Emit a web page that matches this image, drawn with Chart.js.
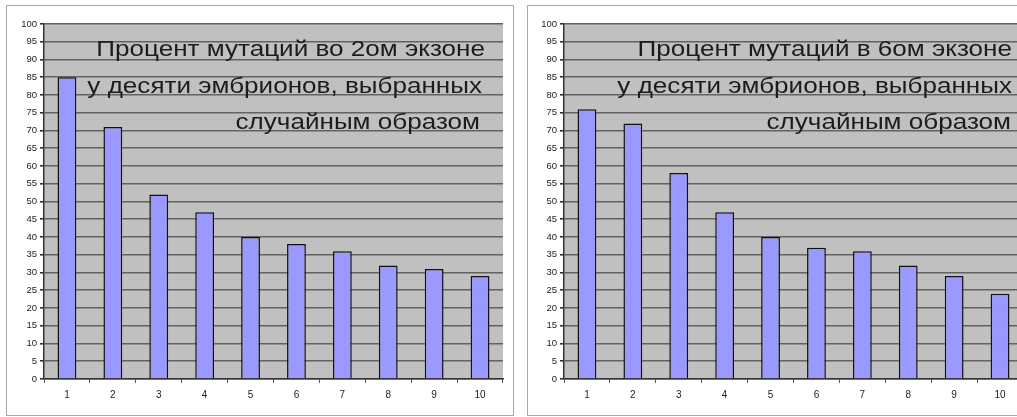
<!DOCTYPE html>
<html>
<head>
<meta charset="utf-8">
<script src="https://cdn.jsdelivr.net/npm/chart.js@4"></script>
<style>
  html, body { margin: 0; padding: 0; background: #fff; width: 1017px; height: 417px; overflow: hidden; position: relative; }
  .frame { position: absolute; top: 5px; width: 506px; height: 409px; border: 1px solid #a8a8a8; background: #fff; }
  #frame1 { left: 6px; }
  #frame2 { left: 527px; }
  canvas { display: block; }
</style>
</head>
<body>
<div class="frame" id="frame1"><canvas id="chart1" width="506" height="409"></canvas></div>
<div class="frame" id="frame2"><canvas id="chart2" width="506" height="409"></canvas></div>
<script>
// Embryo numbers along the x axis
const embryos = ['1', '2', '3', '4', '5', '6', '7', '8', '9', '10'];

// Mutation percentage per embryo
const exon2Values = [85, 71, 52, 47, 40, 38, 36, 32, 31, 29];
const exon6Values = [76, 72, 58, 47, 40, 37, 36, 32, 29, 24];

// Caption lines placed inside each plot
const exon2Caption = ['Процент мутаций во 2ом экзоне', 'у десяти эмбрионов, выбранных', 'случайным образом'];
const exon6Caption = ['Процент мутаций в 6ом экзоне', 'у десяти эмбрионов, выбранных', 'случайным образом'];

// Percentage axis range
const yMin = 0;
const yMax = 100;
const yStep = 5;

// Gray plot background
const plotBackground = {
  id: 'plotBackground',
  beforeDraw(chart) {
    const { ctx, chartArea: a } = chart;
    ctx.save();
    ctx.fillStyle = '#c0c0c0';
    ctx.fillRect(a.left, a.top, a.right - a.left, a.bottom - a.top);
    ctx.restore();
  }
};

// Right-aligned, slightly widened caption text drawn over the plot area
const captionText = {
  id: 'captionText',
  afterDatasetsDraw(chart, args, opts) {
    const { ctx, chartArea: a } = chart;
    ctx.save();
    ctx.font = opts.font;
    ctx.fillStyle = opts.color;
    ctx.textAlign = 'right';
    ctx.textBaseline = 'alphabetic';
    opts.lines.forEach((line, i) => {
      ctx.save();
      ctx.translate(a.left + opts.rightEdges[i], a.top + opts.baselines[i]);
      ctx.scale(opts.stretch, 1);
      ctx.fillText(line, 0, 0);
      ctx.restore();
    });
    ctx.restore();
  }
};

function makeChart(canvasId, values, caption, axisWidth, rightPad, rightEdges) {
  return new Chart(document.getElementById(canvasId), {
    type: 'bar',
    data: {
      labels: embryos,
      datasets: [{
        data: values,
        backgroundColor: '#9999ff',
        borderColor: '#111111',
        borderWidth: 1.5,
        barPercentage: 0.41,
        categoryPercentage: 1.0
      }]
    },
    options: {
      responsive: false,
      animation: false,
      devicePixelRatio: 1,
      layout: { padding: { top: 18, right: rightPad, bottom: 6, left: 0 } },
      plugins: {
        legend: { display: false },
        tooltip: { enabled: false },
        captionText: {
          lines: caption,
          font: '22px "Liberation Sans", Arial, sans-serif',
          color: '#1c1c1c',
          stretch: 1.185,
          rightEdges: rightEdges,
          baselines: [31.7, 69, 105]
        }
      },
      scales: {
        x: {
          grid: { display: true, drawOnChartArea: false, drawTicks: true, tickLength: 4, tickColor: '#555', offset: true },
          border: { display: true, color: '#333', width: 1.5 },
          ticks: { font: { family: '"Liberation Sans", Arial, sans-serif', size: 10 }, color: '#222', padding: 6, maxRotation: 0 },
          afterFit(scale) { scale.height = 30; }
        },
        y: {
          min: yMin,
          max: yMax,
          ticks: { stepSize: yStep, font: { family: '"Liberation Sans", Arial, sans-serif', size: 9.5 }, color: '#222', padding: 3 },
          grid: { color: '#626262', lineWidth: 1.6, tickLength: 4, tickColor: '#333' },
          border: { display: true, color: '#333', width: 1.5 },
          afterFit(scale) { scale.width = axisWidth; }
        }
      }
    },
    plugins: [plotBackground, captionText]
  });
}

makeChart('chart1', exon2Values, exon2Caption, 37, 10, [441, 438, 436]);
makeChart('chart2', exon6Values, exon6Caption, 36, 11, [448, 448, 447]);
</script>
</body>
</html>
